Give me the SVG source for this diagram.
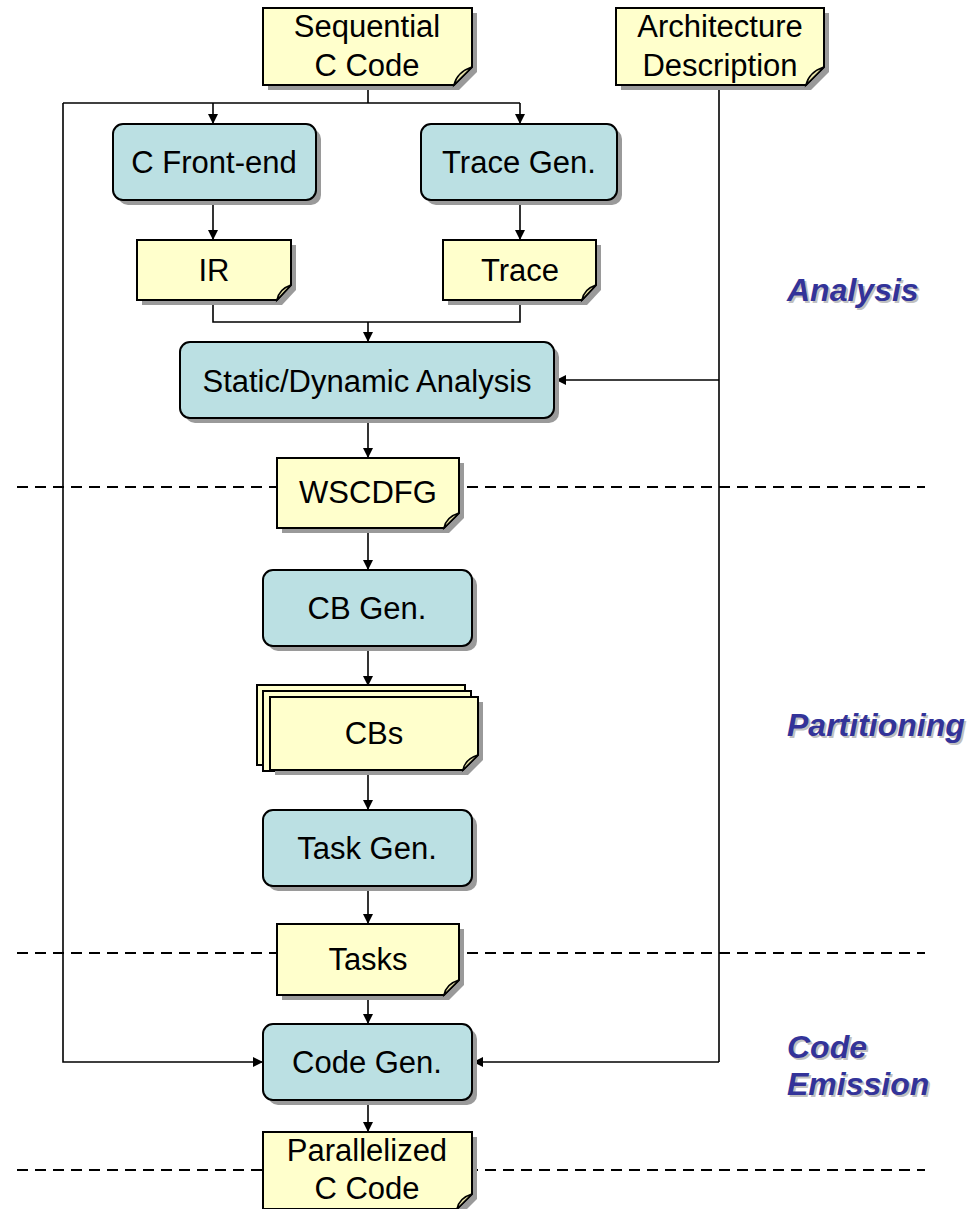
<svg xmlns="http://www.w3.org/2000/svg" width="974" height="1209" viewBox="0 0 974 1209">
<defs>
<style>
.doc{fill:#FFFFCC;stroke:#000;stroke-width:2}
.proc{fill:#BBE0E3;stroke:#000;stroke-width:2}
.sh{fill:#9a9a9a}
.fold{fill:#E8E3A8;stroke:#000;stroke-width:1.5}
.t{font-family:"Liberation Sans",Arial,sans-serif;font-size:31px;fill:#000;text-anchor:middle}
.lab{font-family:"Liberation Sans",Arial,sans-serif;font-size:32px;font-weight:bold;font-style:italic;fill:#333399}
.labsh{font-family:"Liberation Sans",Arial,sans-serif;font-size:32px;font-weight:bold;font-style:italic;fill:#c0c0c0}
.c{fill:none;stroke:#000;stroke-width:1.6}
.dash{fill:none;stroke:#000;stroke-width:2;stroke-dasharray:11 7}
</style>
<marker id="ah" viewBox="0 0 10 10" refX="10" refY="5" markerWidth="10" markerHeight="11" markerUnits="userSpaceOnUse" orient="auto">
<path d="M0,0 L10,5 L0,10 Z" fill="#000"/>
</marker>
</defs>
<rect width="974" height="1209" fill="#fff"/>

<g id="separators">
<line class="dash" x1="17" y1="487" x2="925" y2="487"/>
<line class="dash" x1="17" y1="953" x2="925" y2="953"/>
<line class="dash" x1="17" y1="1170" x2="925" y2="1170"/>
</g>

<g id="connectors">
<polyline class="c" points="368,85 368,103"/>
<polyline class="c" points="63,103 520,103"/>
<polyline class="c" points="213,103 213,124" marker-end="url(#ah)"/>
<polyline class="c" points="520,103 520,124" marker-end="url(#ah)"/>
<polyline class="c" points="213,200 213,240" marker-end="url(#ah)"/>
<polyline class="c" points="520,200 520,240" marker-end="url(#ah)"/>
<polyline class="c" points="213,300 213,322 520,322 520,300"/>
<polyline class="c" points="368,322 368,342" marker-end="url(#ah)"/>
<polyline class="c" points="719,85 719,1062"/>
<polyline class="c" points="719,380 556,380" marker-end="url(#ah)"/>
<polyline class="c" points="368,418 368,458" marker-end="url(#ah)"/>
<polyline class="c" points="368,528 368,570" marker-end="url(#ah)"/>
<polyline class="c" points="368,646 368,686" marker-end="url(#ah)"/>
<polyline class="c" points="368,770 368,810" marker-end="url(#ah)"/>
<polyline class="c" points="368,886 368,924" marker-end="url(#ah)"/>
<polyline class="c" points="368,995 368,1024" marker-end="url(#ah)"/>
<polyline class="c" points="368,1100 368,1132" marker-end="url(#ah)"/>
<polyline class="c" points="63,103 63,1062 263,1062" marker-end="url(#ah)"/>
<polyline class="c" points="719,1062 473,1062" marker-end="url(#ah)"/>
</g>

<g id="seq">
<path class="sh" d="M268,13 H477 V72 L459,90 H268 Z"/>
<path class="doc" d="M263,8 H472 V67 L454,85 H263 Z"/>
<path class="fold" d="M454,85 Q457,72 472,67 Z"/>
<text class="t" x="367" y="37">Sequential</text>
<text class="t" x="367" y="76">C Code</text>
</g>

<g id="arch">
<path class="sh" d="M621,13 H829 V72 L811,90 H621 Z"/>
<path class="doc" d="M616,8 H824 V67 L806,85 H616 Z"/>
<path class="fold" d="M806,85 Q809,72 824,67 Z"/>
<text class="t" x="720" y="37">Architecture</text>
<text class="t" x="720" y="76">Description</text>
</g>

<g id="cfront">
<rect class="sh" x="118" y="129" width="203" height="76" rx="10"/>
<rect class="proc" x="113" y="124" width="203" height="76" rx="10"/>
<text class="t" x="214" y="173">C Front-end</text>
</g>

<g id="tracegen">
<rect class="sh" x="426" y="129" width="196" height="76" rx="10"/>
<rect class="proc" x="421" y="124" width="196" height="76" rx="10"/>
<text class="t" x="519" y="173">Trace Gen.</text>
</g>

<g id="ir">
<path class="sh" d="M142,245 H296 V290 L282,305 H142 Z"/>
<path class="doc" d="M137,240 H291 V285 L277,300 H137 Z"/>
<path class="fold" d="M277,300 Q279,289 291,285 Z"/>
<text class="t" x="214" y="281">IR</text>
</g>

<g id="trace">
<path class="sh" d="M448,245 H601 V290 L587,305 H448 Z"/>
<path class="doc" d="M443,240 H596 V285 L582,300 H443 Z"/>
<path class="fold" d="M582,300 Q584,289 596,285 Z"/>
<text class="t" x="520" y="281">Trace</text>
</g>

<g id="analysis">
<rect class="sh" x="185" y="347" width="374" height="76" rx="10"/>
<rect class="proc" x="180" y="342" width="374" height="76" rx="10"/>
<text class="t" x="367" y="392">Static/Dynamic Analysis</text>
</g>

<g id="wscdfg">
<path class="sh" d="M282,463 H464 V518 L449,533 H282 Z"/>
<path class="doc" d="M277,458 H459 V513 L444,528 H277 Z"/>
<path class="fold" d="M444,528 Q446,517 459,513 Z"/>
<text class="t" x="368" y="503">WSCDFG</text>
</g>

<g id="cbgen">
<rect class="sh" x="268" y="575" width="209" height="76" rx="10"/>
<rect class="proc" x="263" y="570" width="209" height="76" rx="10"/>
<text class="t" x="367" y="619">CB Gen.</text>
</g>

<g id="cbs">
<path class="doc" d="M257,685 H465 V753 L450,765 H257 Z"/>
<path class="doc" d="M263,691 H471 V759 L456,771 H263 Z"/>
<path class="sh" d="M275,702 H483 V760 L468,775 H275 Z"/>
<path class="doc" d="M270,697 H478 V755 L463,770 H270 Z"/>
<path class="fold" d="M463,770 Q465,759 478,755 Z"/>
<text class="t" x="374" y="744">CBs</text>
</g>

<g id="taskgen">
<rect class="sh" x="268" y="815" width="209" height="76" rx="10"/>
<rect class="proc" x="263" y="810" width="209" height="76" rx="10"/>
<text class="t" x="367" y="859">Task Gen.</text>
</g>

<g id="tasks">
<path class="sh" d="M282,929 H464 V985 L449,1000 H282 Z"/>
<path class="doc" d="M277,924 H459 V980 L444,995 H277 Z"/>
<path class="fold" d="M444,995 Q446,984 459,980 Z"/>
<text class="t" x="368" y="970">Tasks</text>
</g>

<g id="codegen">
<rect class="sh" x="268" y="1029" width="209" height="76" rx="10"/>
<rect class="proc" x="263" y="1024" width="209" height="76" rx="10"/>
<text class="t" x="367" y="1073">Code Gen.</text>
</g>

<g id="par">
<path class="sh" d="M268,1137 H477 V1199 L462,1214 H268 Z"/>
<path class="doc" d="M263,1132 H472 V1194 L457,1209 H263 Z"/>
<path class="fold" d="M457,1209 Q459,1198 472,1194 Z"/>
<text class="t" x="367" y="1161">Parallelized</text>
<text class="t" x="367" y="1199">C Code</text>
</g>

<g id="labels">
<text class="labsh" x="789" y="303">Analysis</text>
<text class="lab" x="787" y="301">Analysis</text>
<text class="labsh" x="789" y="738">Partitioning</text>
<text class="lab" x="787" y="736">Partitioning</text>
<text class="labsh" x="789" y="1060">Code</text>
<text class="lab" x="787" y="1058">Code</text>
<text class="labsh" x="789" y="1097">Emission</text>
<text class="lab" x="787" y="1095">Emission</text>
</g>
</svg>
